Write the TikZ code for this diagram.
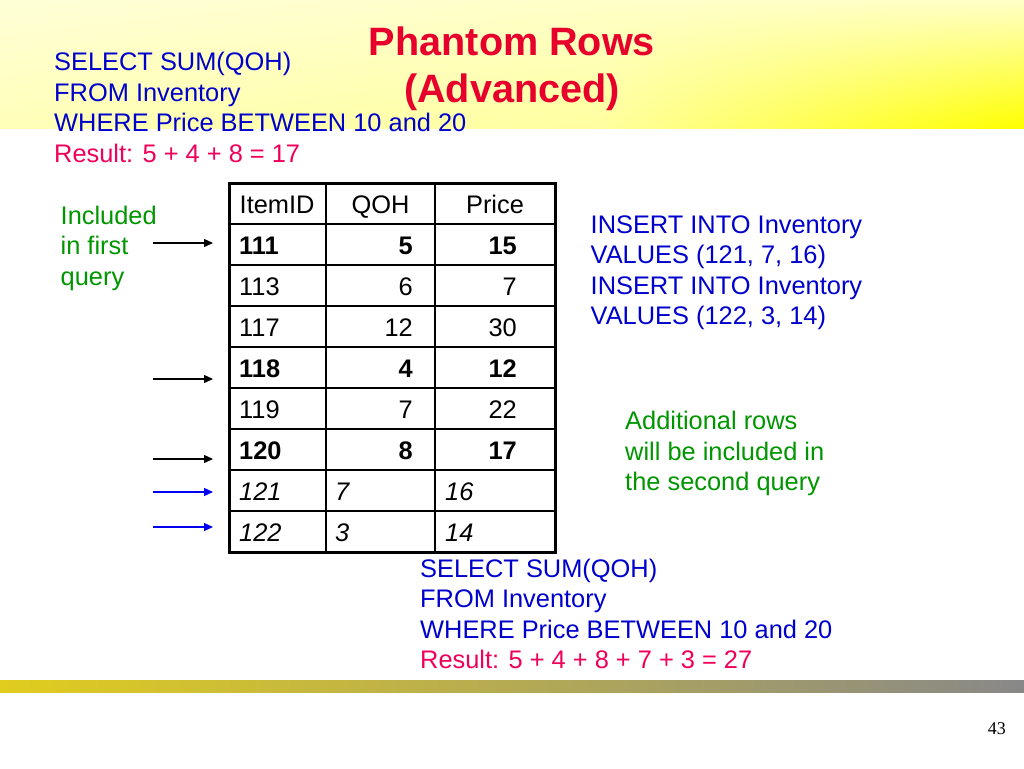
\documentclass[tikz,border=0pt]{standalone}
\usepackage{fontspec}
\setmainfont{Liberation Sans}
\newfontfamily\pgnumfont{Liberation Serif}
\usetikzlibrary{arrows.meta,shadings}
\definecolor{sqlblue}{RGB}{0,0,204}
\definecolor{notegreen}{RGB}{0,150,0}
\definecolor{respink}{RGB}{240,0,90}
\definecolor{titlered}{RGB}{232,0,45}
\definecolor{arrowblue}{RGB}{0,0,240}
\definecolor{bandA}{RGB}{255,255,215}
\definecolor{bandB}{RGB}{255,255,185}
\definecolor{bandC}{RGB}{255,255,200}
\definecolor{bandD}{RGB}{255,255,160}
\definecolor{bandE}{RGB}{255,255,0}
\definecolor{barL}{RGB}{225,205,30}
\definecolor{barR}{RGB}{136,136,136}
\newcommand\mybody{\fontsize{25.4}{30}\selectfont}
\newcommand\mytitle{\fontsize{39.6}{46}\selectfont\bfseries}
\tikzset{
  txt/.style={anchor=base west, inner sep=0pt, font=\mybody},
  cellL/.style={anchor=base west, inner sep=0pt, font=\mybody},
  cellR/.style={anchor=base east, inner sep=0pt, font=\mybody},
  cellC/.style={anchor=base, inner sep=0pt, font=\mybody},
  sqltxt/.style={txt, text=sqlblue},
  restxt/.style={txt, text=respink},
  notetxt/.style={txt, text=notegreen},
  titletxt/.style={anchor=base, inner sep=0pt, font=\mytitle, text=titlered},
  outerline/.style={line width=3pt},
  innerline/.style={line width=1.8pt},
  blackarrow/.style={line width=1.3pt, -{Triangle[length=9pt,width=8pt]}},
  bluearrow/.style={line width=1.3pt, arrowblue, -{Triangle[length=9pt,width=8pt]}}
}
\begin{document}
\begin{tikzpicture}[x=1pt,y=-1pt]
\useasboundingbox (0,0) rectangle (1024,768);
\fill[white] (0,0) rectangle (1024,768);
% top band
\shade[upper left=bandA, upper right=bandC, lower left=bandB, lower right=bandD] (0,0) rectangle (600,128);
\shade[upper left=bandC, upper right=bandC, lower left=bandD, lower right=bandE] (599.5,0) rectangle (1024,128);
% bottom bar
\shade[left color=barL, right color=barR] (0,680) rectangle (1024,692);

% title
\node[titletxt] (t1) at (512,55.5) {Phantom Rows};
\node[titletxt] (t2) at (512,102.5) {(Advanced)};

% first query
\node[sqltxt] (q1a) at (54,70.5) {SELECT SUM(QOH)};
\node[sqltxt] (q1b) at (54,101) {FROM Inventory};
\node[sqltxt] (q1c) at (54,131.5) {WHERE Price BETWEEN 10 and 20};
\node[restxt] (q1d) at (54,162) {Result: 5 + 4 + 8 = 17};

% left note
\node[notetxt] (n1a) at (60.5,224) {Included};
\node[notetxt] (n1b) at (60.5,254.5) {in first};
\node[notetxt] (n1c) at (60.5,285) {query};

% insert statements
\node[sqltxt] (ins1) at (590.5,233) {INSERT INTO Inventory};
\node[sqltxt] (ins2) at (590.5,263.5) {VALUES (121, 7, 16)};
\node[sqltxt] (ins3) at (590.5,294) {INSERT INTO Inventory};
\node[sqltxt] (ins4) at (590.5,324.5) {VALUES (122, 3, 14)};

% right note
\node[notetxt] (n2a) at (625,429.5) {Additional rows};
\node[notetxt] (n2b) at (625,460) {will be included in};
\node[notetxt] (n2c) at (625,490.5) {the second query};

% second query
\node[sqltxt] (q2a) at (420,577) {SELECT SUM(QOH)};
\node[sqltxt] (q2b) at (420,607.5) {FROM Inventory};
\node[sqltxt] (q2c) at (420,638) {WHERE Price BETWEEN 10 and 20};
\node[restxt] (q2d) at (420,668.5) {Result: 5 + 4 + 8 + 7 + 3 = 27};

% table grid
\foreach \yy in {224,265,306,347,388,429,470,511} {\draw[innerline] (229,\yy) -- (555,\yy);}
\draw[innerline] (326,183) -- (326,552);
\draw[innerline] (435,183) -- (435,552);
\draw[outerline] (229,183) rectangle (555,552);

% header
\node[cellL] (h1) at (239.5,213) {ItemID};
\node[cellC] (h2) at (380.5,213) {QOH};
\node[cellC] (h3) at (495,213) {Price};
% rows
\node[cellL, font=\mybody\bfseries] (r1a) at (239,254) {111};
\node[cellR, font=\mybody\bfseries] (r1b) at (413,254) {5};
\node[cellR, font=\mybody\bfseries] (r1c) at (517,254) {15};
\node[cellL] (r2a) at (239,295) {113};
\node[cellR] (r2b) at (413,295) {6};
\node[cellR] (r2c) at (517,295) {7};
\node[cellL] (r3a) at (239,336) {117};
\node[cellR] (r3b) at (413,336) {12};
\node[cellR] (r3c) at (517,336) {30};
\node[cellL, font=\mybody\bfseries] (r4a) at (239,377) {118};
\node[cellR, font=\mybody\bfseries] (r4b) at (413,377) {4};
\node[cellR, font=\mybody\bfseries] (r4c) at (517,377) {12};
\node[cellL] (r5a) at (239,418) {119};
\node[cellR] (r5b) at (413,418) {7};
\node[cellR] (r5c) at (517,418) {22};
\node[cellL, font=\mybody\bfseries] (r6a) at (239,459) {120};
\node[cellR, font=\mybody\bfseries] (r6b) at (413,459) {8};
\node[cellR, font=\mybody\bfseries] (r6c) at (517,459) {17};
\node[cellL, font=\mybody\itshape] (r7a) at (239,500) {121};
\node[cellL, font=\mybody\itshape] (r7b) at (335,500) {7};
\node[cellL, font=\mybody\itshape] (r7c) at (445,500) {16};
\node[cellL, font=\mybody\itshape] (r8a) at (239,541) {122};
\node[cellL, font=\mybody\itshape] (r8b) at (335,541) {3};
\node[cellL, font=\mybody\itshape] (r8c) at (445,541) {14};

% arrows
\coordinate (a1s) at (153,243); \coordinate (a1e) at (213,243);
\coordinate (a2s) at (153,379); \coordinate (a2e) at (213,379);
\coordinate (a3s) at (153,459); \coordinate (a3e) at (213,459);
\coordinate (a4s) at (153,492); \coordinate (a4e) at (213,492);
\coordinate (a5s) at (153,527); \coordinate (a5e) at (213,527);
\draw[blackarrow] (a1s) -- (a1e);
\draw[blackarrow] (a2s) -- (a2e);
\draw[blackarrow] (a3s) -- (a3e);
\draw[bluearrow] (a4s) -- (a4e);
\draw[bluearrow] (a5s) -- (a5e);

% page number
\node[anchor=base east, inner sep=0pt, font=\pgnumfont\fontsize{18}{20}\selectfont] (pg) at (1006,734.5) {43};
\end{tikzpicture}
\end{document}
